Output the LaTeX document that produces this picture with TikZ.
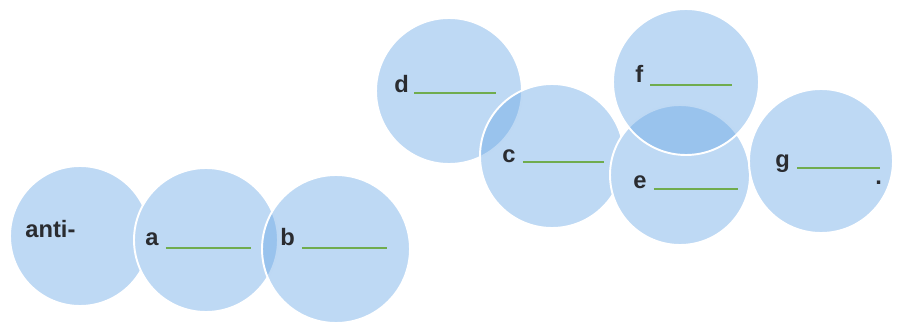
\documentclass[tikz,border=0pt]{standalone}
\usepackage{fontspec}
\setmainfont{Liberation Sans}
\definecolor{bubbleblue}{RGB}{190,217,244}
\definecolor{deepblue}{RGB}{110,170,230}
\definecolor{blankgreen}{RGB}{112,172,78}
\definecolor{inkgray}{RGB}{42,44,48}
\tikzset{
  bubble/.style={fill=bubbleblue, draw=white, line width=1.1pt},
  glass/.style={fill=deepblue, fill opacity=0.45, draw=white, draw opacity=1, line width=1.1pt},
  word/.style={anchor=base west, inner sep=0pt, text=inkgray, font=\fontsize{13.5}{16}\selectfont\bfseries},
  blank/.style={draw=blankgreen, line width=0.85pt}
}
\begin{document}
\begin{tikzpicture}
                \useasboundingbox (0,0) rectangle (18.18,6.46);

                % left row
                \draw[bubble] (1.60,1.74) circle (1.40cm);
                \draw[bubble] (4.12,1.66) circle (1.44cm);
                \draw[glass] (6.72,1.48) circle (1.48cm);

                % right group
                \draw[bubble] (8.98,4.64) circle (1.46cm);
                \draw[glass] (11.04,3.34) circle (1.44cm);
                \draw[bubble] (13.60,2.96) circle (1.40cm);
                \draw[glass] (13.72,4.82) circle (1.46cm);
                \draw[bubble] (16.42,3.24) circle (1.44cm);

                \node[word] (anti) at (0.50,1.72) {anti-};
                \node[word] (a) at (2.90,1.56) {a};
                \node[word] (b) at (5.60,1.56) {b};
                \node[word] (d) at (7.88,4.62) {d};
                \node[word] (c) at (10.04,3.22) {c};
                \node[word] (f) at (12.70,4.80) {f};
                \node[word] (e) at (12.66,2.70) {e};
                \node[word] (g) at (15.50,3.12) {g};
                \node[word] (dot) at (17.50,2.78) {.};

                \draw[blank] ([shift={(0.14,-0.06)}]a.base east) -- ++(1.70,0);
                \draw[blank] ([shift={(0.14,-0.06)}]b.base east) -- ++(1.70,0);
                \draw[blank] ([shift={(0.10,-0.02)}]d.base east) -- ++(1.64,0);
                \draw[blank] ([shift={(0.14,0)}]c.base east) -- ++(1.62,0);
                \draw[blank] ([shift={(0.13,-0.04)}]f.base east) -- ++(1.64,0);
                \draw[blank] ([shift={(0.14,-0.02)}]e.base east) -- ++(1.68,0);
                \draw[blank] ([shift={(0.14,-0.02)}]g.base east) -- ++(1.66,0);
\end{tikzpicture}
\end{document}
